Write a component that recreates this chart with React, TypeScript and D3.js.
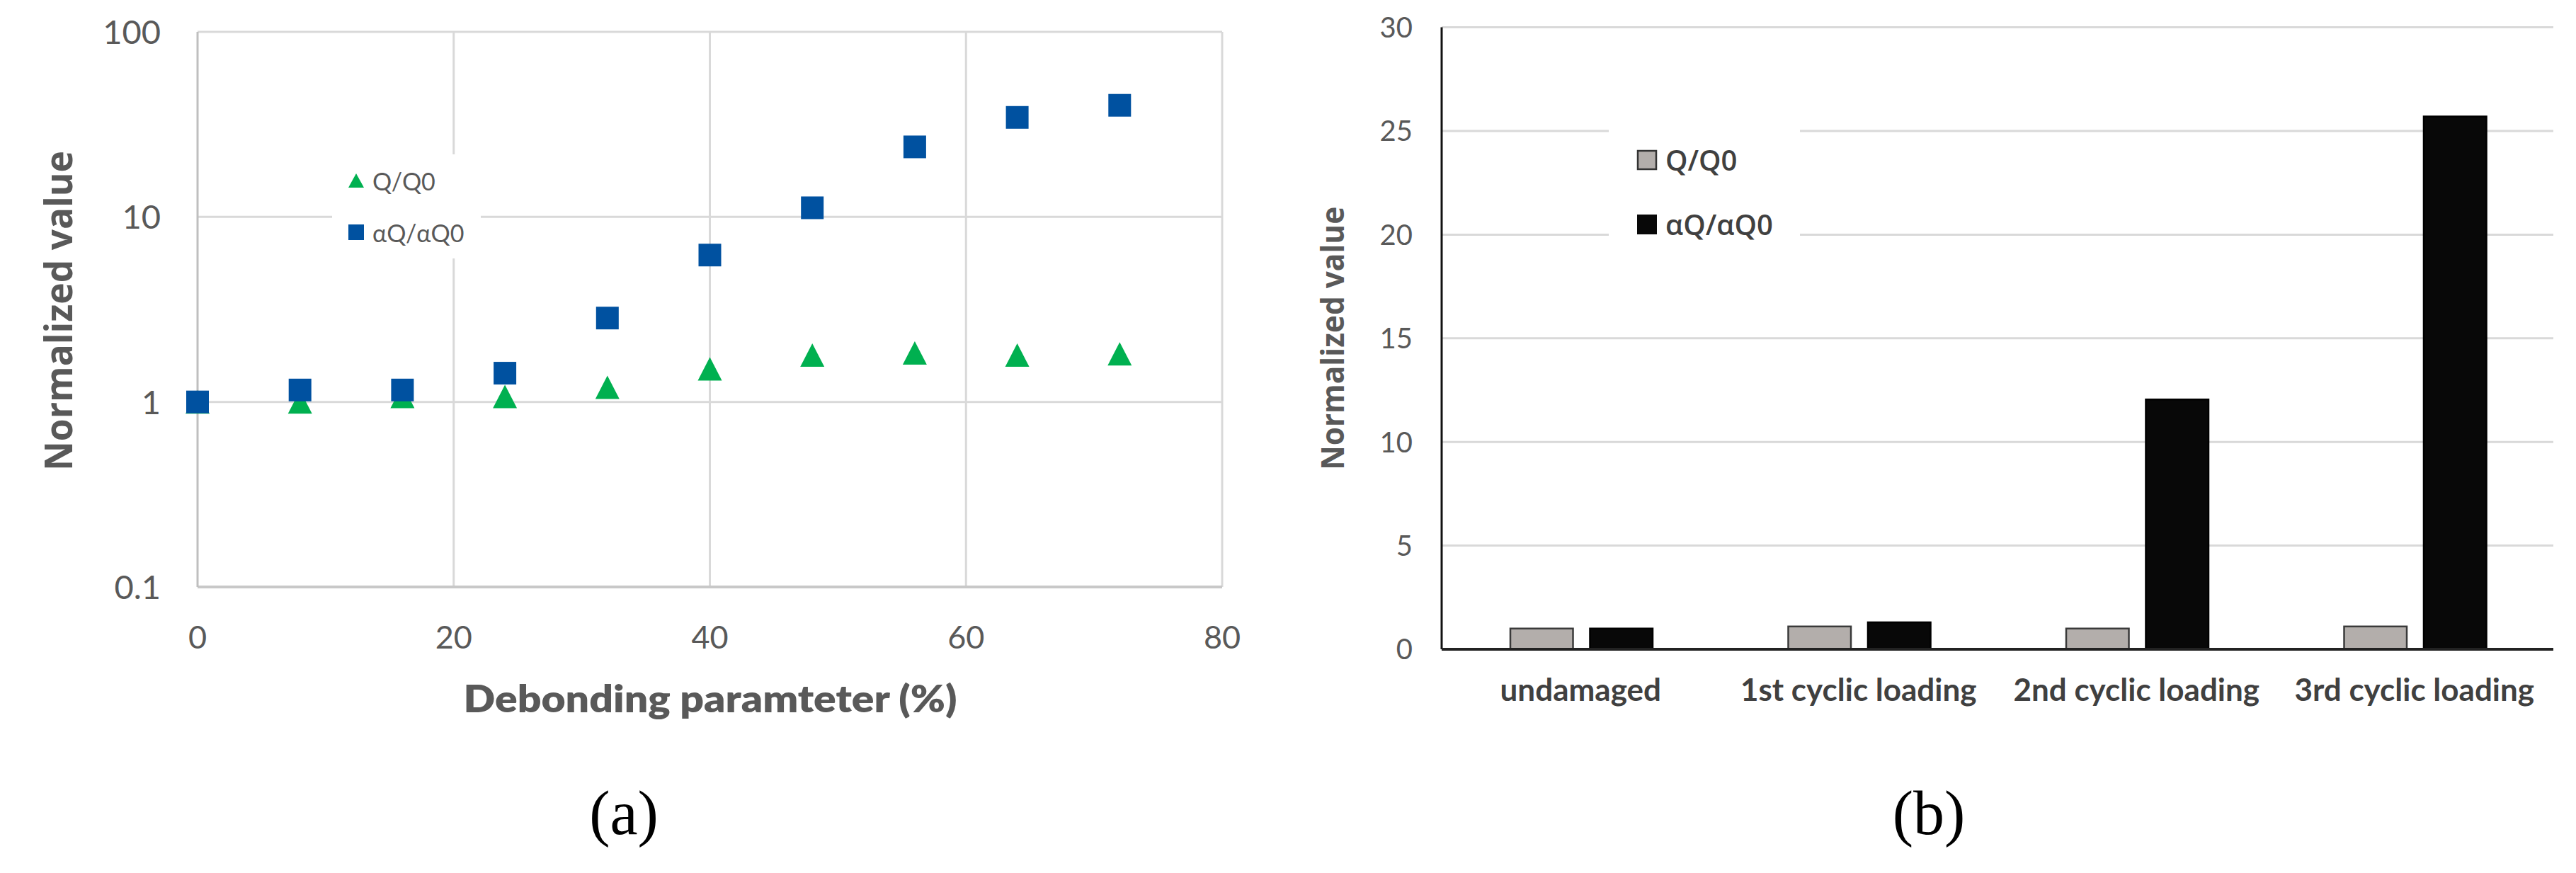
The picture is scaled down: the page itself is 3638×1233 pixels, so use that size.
import React from "react";
import * as d3 from "d3";

// ---------- Data: panel (a) ----------
const debonding = [0, 8, 16, 24, 32, 40, 48, 56, 64, 72];
const qRatio = [1.0, 1.0, 1.07, 1.07, 1.2, 1.51, 1.79, 1.84, 1.79, 1.82];
const alphaRatio = [1.0, 1.16, 1.16, 1.43, 2.84, 6.22, 11.2, 23.9, 34.5, 40.1];
const xTicksA = [0, 20, 40, 60, 80];
const yTicksA = [0.1, 1, 10, 100];
const yTickLabelsA = ["0.1", "1", "10", "100"];

// ---------- Data: panel (b) ----------
const stages = ["undamaged", "1st cyclic loading", "2nd cyclic loading", "3rd cyclic loading"];
const seriesNames = ["Q/Q0", "αQ/αQ0"];
const qBars = [1.0, 1.1, 1.0, 1.1];
const alphaBars = [1.0, 1.3, 12.05, 25.7];
const yTicksB = [0, 5, 10, 15, 20, 25, 30];

const GREEN = "#00b050";
const BLUE = "#0051a0";
const GRID = "#d9d9d9";
const TXT = "#595959";

export default function App() {
  // panel (a) scales
  const xA = d3.scaleLinear().domain([0, 80]).range([279, 1726]);
  const yA = d3.scaleLog().domain([0.1, 100]).range([829, 45]);

  // panel (b) scales
  const yB = d3.scaleLinear().domain([0, 30]).range([917, 38.6]);
  const xB = d3.scaleBand<string>().domain(stages).range([2036, 3606]).padding(0);
  const inner = d3
    .scaleBand<string>()
    .domain(seriesNames)
    .range([97, 298])
    .paddingInner(0.213)
    .paddingOuter(0);

  const sq = 32;
  const triW = 34;
  const triH = 33;
  const triPath = (cx: number, cy: number, w: number, h: number) =>
    `M${cx - w / 2},${cy + h / 2}L${cx},${cy - h / 2}L${cx + w / 2},${cy + h / 2}Z`;

  const barValues = [qBars, alphaBars];
  const barFill = ["#b3aeab", "#080808"];
  const barStroke = ["#3a3a3a", "#000000"];

  return (
    <svg
      width={3638}
      height={1233}
      style={{ position: "absolute", left: 0, top: 0, background: "#fff" }}
    >
      <rect x={0} y={0} width={3638} height={1233} fill="#fff" />

      {/* ================= Panel (a) ================= */}
      {xTicksA.slice(1).map((t) => (
        <line key={"gx" + t} x1={xA(t)} x2={xA(t)} y1={yA(100)} y2={yA(0.1)} stroke={GRID} strokeWidth={3} />
      ))}
      {yTicksA.slice(1).map((t) => (
        <line key={"gy" + t} x1={xA(0)} x2={xA(80)} y1={yA(t)} y2={yA(t)} stroke={GRID} strokeWidth={3} />
      ))}
      <line x1={xA(0)} x2={xA(80)} y1={yA(0.1)} y2={yA(0.1)} stroke="#c8c8c8" strokeWidth={4} />
      <line x1={xA(0)} x2={xA(0)} y1={yA(100)} y2={yA(0.1)} stroke="#bfbfbf" strokeWidth={3} />

      {/* legend box (a) */}
      <rect x={469} y={218} width={210} height={147} fill="#fff" />
      <path d={triPath(503, 255, 22, 20)} fill={GREEN} />
      <rect x={492} y={317} width={22} height={22} fill={BLUE} />
      <text x={526} y={257} dy="0.35em" fontFamily="Lato" fontSize={34} fill={TXT}>
        {seriesNames[0]}
      </text>
      <text x={526} y={330} dy="0.35em" fontFamily="Lato" fontSize={34} fill={TXT}>
        {seriesNames[1]}
      </text>

      {/* markers: triangles under squares */}
      {debonding.map((d, i) => (
        <path key={"t" + i} d={triPath(xA(d), yA(qRatio[i]), triW, triH)} fill={GREEN} />
      ))}
      {debonding.map((d, i) => (
        <rect
          key={"s" + i}
          x={xA(d) - sq / 2}
          y={yA(alphaRatio[i]) - sq / 2}
          width={sq}
          height={sq}
          fill={BLUE}
        />
      ))}

      {xTicksA.map((t) => (
        <text key={"xl" + t} x={xA(t)} y={916} textAnchor="middle" fontFamily="Lato" fontSize={45} fill={TXT}>
          {t}
        </text>
      ))}
      {yTicksA.map((t, i) => (
        <text
          key={"yl" + t}
          x={227}
          y={yA(t)}
          dy="0.36em"
          textAnchor="end"
          fontFamily="Lato"
          fontSize={47}
          fill={TXT}
        >
          {yTickLabelsA[i]}
        </text>
      ))}

      <text
        x={1003}
        y={1006}
        textAnchor="middle"
        fontFamily="Lato"
        fontWeight={800}
        fontSize={52}
        fill={TXT}
        textLength={697}
        lengthAdjust="spacingAndGlyphs"
      >
        Debonding paramteter (%)
      </text>
      <text
        transform={`translate(102,${(yA(100) + yA(0.1)) / 2 + 2}) rotate(-90)`}
        textAnchor="middle"
        fontFamily="Open Sans"
        fontWeight={700}
        fontSize={53}
        fill={TXT}
        textLength={452}
        lengthAdjust="spacingAndGlyphs"
      >
        Normalized value
      </text>

      <text x={881} y={1178} textAnchor="middle" fontFamily="Liberation Serif" fontSize={88} fill="#000">
        (a)
      </text>

      {/* ================= Panel (b) ================= */}
      {yTicksB.slice(1).map((t) => (
        <line key={"gb" + t} x1={2036} x2={3606} y1={yB(t)} y2={yB(t)} stroke={GRID} strokeWidth={3} />
      ))}

      <rect x={2272} y={150} width={270} height={220} fill="#fff" />

      {stages.map((s, i) =>
        seriesNames.map((n, k) => {
          const v = barValues[k][i];
          const x0 = (xB(s) as number) + (inner(n) as number);
          return (
            <rect
              key={s + n}
              x={x0}
              y={yB(v)}
              width={inner.bandwidth()}
              height={yB(0) - yB(v)}
              fill={barFill[k]}
              stroke={barStroke[k]}
              strokeWidth={2.5}
            />
          );
        })
      )}

      <line x1={2036} x2={2036} y1={yB(30)} y2={yB(0)} stroke="#111" strokeWidth={3} />
      <line x1={2036} x2={3606} y1={yB(0)} y2={yB(0)} stroke="#222" strokeWidth={4} />

      <rect x={2313} y={213} width={26} height={26} fill={barFill[0]} stroke="#333" strokeWidth={2.5} />
      <rect x={2312} y={303} width={28} height={28} fill={barFill[1]} />
      <text x={2352} y={227} dy="0.36em" fontFamily="Open Sans" fontWeight={600} fontSize={40} fill="#404040">
        {seriesNames[0]}
      </text>
      <text x={2352} y={318} dy="0.36em" fontFamily="Open Sans" fontWeight={600} fontSize={40} fill="#404040">
        {seriesNames[1]}
      </text>

      {yTicksB.map((t) => (
        <text
          key={"ybl" + t}
          x={1995}
          y={yB(t)}
          dy="0.36em"
          textAnchor="end"
          fontFamily="Lato"
          fontSize={40}
          fill={TXT}
        >
          {t}
        </text>
      ))}
      {stages.map((s) => (
        <text
          key={"cat" + s}
          x={(xB(s) as number) + xB.bandwidth() / 2}
          y={990}
          textAnchor="middle"
          fontFamily="Lato"
          fontWeight={700}
          fontSize={44}
          fill="#404040"
        >
          {s}
        </text>
      ))}

      <text
        transform={`translate(1898,${(yB(30) + yB(0)) / 2}) rotate(-90)`}
        textAnchor="middle"
        fontFamily="Open Sans"
        fontWeight={700}
        fontSize={44}
        fill={TXT}
        textLength={372}
        lengthAdjust="spacingAndGlyphs"
      >
        Normalized value
      </text>

      <text x={2724} y={1178} textAnchor="middle" fontFamily="Liberation Serif" fontSize={88} fill="#000">
        (b)
      </text>
    </svg>
  );
}
